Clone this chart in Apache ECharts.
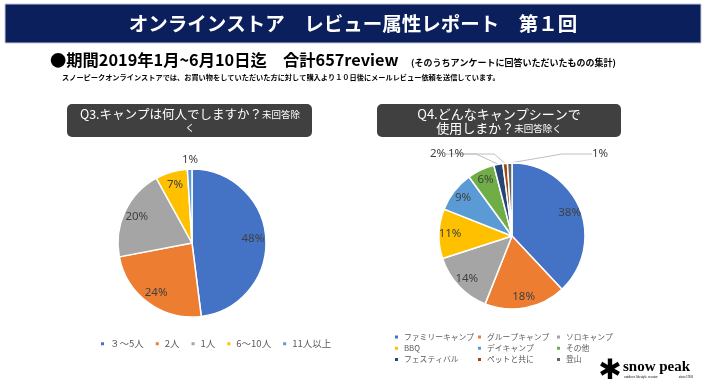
<!DOCTYPE html>
<html><head><meta charset="utf-8">
<script src="https://cdn.jsdelivr.net/npm/echarts@6/dist/echarts.min.js"></script>
<style>html,body{margin:0;padding:0;background:#fff}#c{width:706px;height:387px}</style>
</head><body><div id="c"></div>
<script>
const titleText = 'オンラインストア　レビュー属性レポート　第１回';
const periodText = '●期間2019年1月~6月10日迄　合計657review';
const noteText = '(そのうちアンケートに回答いただいたものの集計)';
const descText = 'スノーピークオンラインストアでは、お買い物をしていただいた方に対して購入より１０日後にメールレビュー依頼を送信しています。';
const q3Title = 'Q3.キャンプは何人でしますか？';
const q3NoteA = '未回答除';
const q3NoteB = 'く';
const q4Line1 = 'Q4.どんなキャンプシーンで';
const q4Line2 = '使用しまか？';
const q4Note = '未回答除く';

const q3Categories = ['３～5人', '2人', '1人', '6～10人', '11人以上'];
const q3Values = [48, 24, 20, 7, 1];
const q4Categories = ['ファミリーキャンプ', 'グループキャンプ', 'ソロキャンプ', 'BBQ', 'デイキャンプ', 'その他', 'フェスティバル', 'ペットと共に', '登山'];
const q4Values = [38, 18, 14, 11, 9, 6, 2, 1, 1];
const palette = ['#4472C4', '#ED7D31', '#A5A5A5', '#FFC000', '#5B9BD5', '#70AD47', '#264478', '#9E480E', '#636363'];

const JP = '"Noto Sans CJK JP", "Noto Sans", sans-serif';
const NUM = '"Noto Sans", "Noto Sans CJK JP", sans-serif';
const SMALL = 3;

// pie layout
const p3 = { cx: 192, cy: 243, r: 74 };
const p4 = { cx: 512, cy: 236, r: 73 };
// horizontal offsets (from pie centre) for the small outside labels, placed in a row above the pie
const q3SmallOffsets = { 4: -2 };
const q4SmallOffsets = { 6: -74, 7: -56, 8: 88 };

function baseData(cats, vals, lineShow) {
  return cats.map((n, i) => ({
    name: n, value: vals[i],
    itemStyle: { color: palette[i] },
    label: { show: vals[i] < SMALL },
    labelLine: { show: lineShow && vals[i] < SMALL }
  }));
}
function overlayData(cats, vals) {
  return cats.map((n, i) => ({
    name: n, value: vals[i],
    label: { show: vals[i] >= SMALL }
  }));
}
function smallLayout(p, offsets, above) {
  return function (params) {
    const off = offsets[params.dataIndex];
    if (off === undefined) return {};
    return { x: p.cx + off, y: p.cy - p.r - above, align: 'center', verticalAlign: 'middle' };
  };
}
const labelStyle = { color: '#404040', fontSize: 11.5, fontFamily: NUM, formatter: '{c}%' };
const legendText = { color: '#595959', fontSize: 9.5, fontFamily: JP };
const legendText2 = { color: '#595959', fontSize: 7.8, fontFamily: JP };

const chart = echarts.init(document.getElementById('c'), null, { renderer: 'canvas' });
chart.setOption({
  backgroundColor: '#fff',
  animation: false,
  legend: [
    { data: q3Categories, left: 94, top: 334, icon: 'rect', itemWidth: 5, itemHeight: 5, itemGap: 10, textStyle: legendText },
    { data: [q4Categories[0], q4Categories[3], q4Categories[6]], orient: 'vertical', left: 388, top: 328,
      icon: 'rect', itemWidth: 5, itemHeight: 5, itemGap: 3.5, textStyle: legendText2 },
    { data: [q4Categories[1], q4Categories[4], q4Categories[7]], orient: 'vertical', left: 471, top: 328,
      icon: 'rect', itemWidth: 5, itemHeight: 5, itemGap: 3.5, textStyle: legendText2 },
    { data: [q4Categories[2], q4Categories[5], q4Categories[8]], orient: 'vertical', left: 550, top: 328,
      icon: 'rect', itemWidth: 5, itemHeight: 5, itemGap: 3.5, textStyle: legendText2 }
  ],
  series: [
    {
      type: 'pie', center: [p3.cx, p3.cy], radius: [0, p3.r], startAngle: 90, clockwise: true,
      itemStyle: { borderColor: '#fff', borderWidth: 1.5 },
      label: Object.assign({ position: 'outside' }, labelStyle),
      labelLine: { length: 3, length2: 0 },
      labelLayout: smallLayout(p3, q3SmallOffsets, 9),
      emphasis: { disabled: true },
      data: baseData(q3Categories, q3Values, false)
    },
    {
      type: 'pie', center: [p3.cx, p3.cy], radius: [42, p3.r], startAngle: 90, clockwise: true, silent: true,
      itemStyle: { color: 'rgba(0,0,0,0)', borderWidth: 0 },
      label: Object.assign({ position: 'inside' }, labelStyle),
      emphasis: { disabled: true },
      data: overlayData(q3Categories, q3Values)
    },
    {
      type: 'pie', center: [p4.cx, p4.cy], radius: [0, p4.r], startAngle: 90, clockwise: true,
      itemStyle: { borderColor: '#fff', borderWidth: 1.5 },
      label: Object.assign({ position: 'outside' }, labelStyle),
      labelLine: { length: 3, length2: 30, lineStyle: { color: '#bfbfbf', width: 1 } },
      labelLayout: smallLayout(p4, q4SmallOffsets, 9),
      emphasis: { disabled: true },
      data: baseData(q4Categories, q4Values, true)
    },
    {
      type: 'pie', center: [p4.cx, p4.cy], radius: [45, p4.r], startAngle: 90, clockwise: true, silent: true,
      itemStyle: { color: 'rgba(0,0,0,0)', borderWidth: 0 },
      label: Object.assign({ position: 'inside' }, labelStyle),
      emphasis: { disabled: true },
      data: overlayData(q4Categories, q4Values)
    }
  ],
  graphic: [
    { type: 'rect', shape: { x: 5, y: 4, width: 696, height: 39 }, style: { fill: '#0a1f5c', stroke: '#c5ccd9', lineWidth: 1 }, silent: true },
    { type: 'text', x: 353, y: 24, style: { text: titleText, fill: '#fff', fontSize: 19.5, fontWeight: 'bold', fontFamily: JP, align: 'center', verticalAlign: 'middle' } },
    { type: 'text', x: 50, y: 60, style: { text: periodText, fill: '#000', fontSize: 16.3, fontWeight: 'bold', fontFamily: JP, align: 'left', verticalAlign: 'middle' } },
    { type: 'text', x: 411, y: 63, style: { text: noteText, fill: '#000', fontSize: 9, fontWeight: 'bold', fontFamily: JP, align: 'left', verticalAlign: 'middle' } },
    { type: 'text', x: 62, y: 77, style: { text: descText, fill: '#000', fontSize: 7.2, fontWeight: 'bold', fontFamily: JP, align: 'left', verticalAlign: 'middle' } },
    { type: 'rect', shape: { x: 67, y: 104, width: 245, height: 33, r: 5 }, style: { fill: '#404040' }, silent: true },
    { type: 'text', x: 190, y: 120, style: {
        text: '{b|' + q3Title + '}{s|' + q3NoteA + '}\n{s|' + q3NoteB + '}',
        fill: '#fff', fontFamily: JP, align: 'center', verticalAlign: 'middle',
        rich: { b: { fontSize: 12.5, fill: '#fff', fontFamily: JP, lineHeight: 15 }, s: { fontSize: 9.5, fill: '#fff', fontFamily: JP, lineHeight: 12 } }
      } },
    { type: 'rect', shape: { x: 377, y: 104, width: 244, height: 33, r: 5 }, style: { fill: '#404040' }, silent: true },
    { type: 'text', x: 499, y: 121, style: {
        text: '{b|' + q4Line1 + '}\n{b|' + q4Line2 + '}{s|' + q4Note + '}',
        fill: '#fff', fontFamily: JP, align: 'center', verticalAlign: 'middle',
        rich: { b: { fontSize: 13, fill: '#fff', fontFamily: JP, lineHeight: 14 }, s: { fontSize: 9.5, fill: '#fff', fontFamily: JP, lineHeight: 14 } }
      } },
    { type: 'text', x: 610, y: 372, style: { text: '✱', fill: '#000', fontSize: 28, fontFamily: '"DejaVu Sans"', align: 'center', verticalAlign: 'middle' } },
    { type: 'text', x: 623, y: 367, style: { text: 'snow peak', fill: '#000', fontSize: 15, fontWeight: 'bold', fontFamily: '"Liberation Serif", serif', align: 'left', verticalAlign: 'middle' } },
    { type: 'text', x: 624, y: 377, style: { text: 'outdoor lifestyle creator', fill: '#000', fontSize: 3.5, fontFamily: '"Liberation Serif", serif', align: 'left', verticalAlign: 'middle' } },
    { type: 'text', x: 693, y: 377, style: { text: 'since1958', fill: '#000', fontSize: 3.5, fontFamily: '"Liberation Serif", serif', align: 'right', verticalAlign: 'middle' } }
  ]
});
</script></body></html>
